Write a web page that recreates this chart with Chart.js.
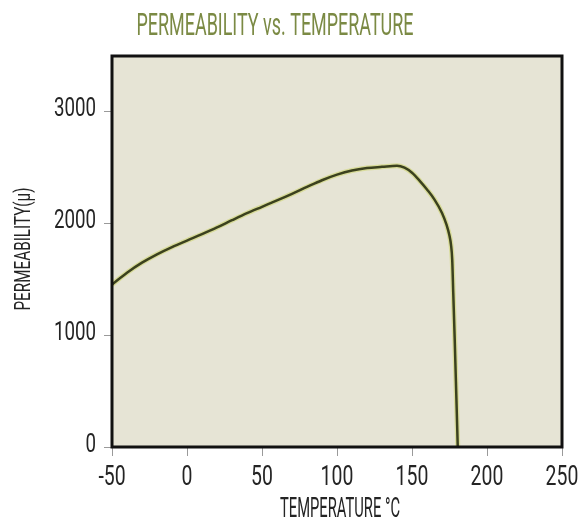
<!DOCTYPE html>
<html>
<head>
<meta charset="utf-8">
<script src="https://cdn.jsdelivr.net/npm/chart.js@4/dist/chart.umd.min.js"></script>
<style>
  html, body { margin: 0; padding: 0; background: #ffffff; }
  #wrap { width: 585px; height: 529px; }
</style>
</head>
<body>
<div id="wrap"><canvas id="chart" width="585" height="529"></canvas></div>
<script>
// permeability curve, read at temperature (°C)
const temps = [-50, -40, -30, -20, -10, 0, 10, 20, 30, 40, 50, 60, 70, 80, 90, 100, 110, 120, 130, 140, 145, 150, 155, 160, 165, 170, 173, 175, 176, 176.8, 177.5, 178.5, 179.5, 180.5]
const perm  = [1455, 1560, 1650, 1725, 1790, 1848, 1905, 1965, 2030, 2093, 2150, 2207, 2266, 2328, 2388, 2438, 2475, 2497, 2508, 2518, 2500, 2455, 2385, 2305, 2215, 2095, 1990, 1890, 1810, 1680, 1380, 950, 480, 0]

const xTicks = [-50, 0, 50, 100, 150, 200, 250]
const yTicks = [0, 1000, 2000, 3000]

const titleText = "PERMEABILITY vs. TEMPERATURE"
const xTitle = "TEMPERATURE °C"
const yTitle = "PERMEABILITY(μ)"

const FONT = 'Roboto, "Liberation Sans", sans-serif'
const INK = '#242424'

const points = () => temps.map((t, i) => ({ x: t, y: perm[i] }))

// draws text squeezed horizontally, for the tall condensed lettering
function narrowText(ctx, text, x, y, size, opts) {
  const o = Object.assign({ align: 'center', squeeze: 0.72, width: null, rotate: 0, color: INK }, opts)
  ctx.save()
  ctx.font = size + 'px ' + FONT
  ctx.fillStyle = o.color
  ctx.textBaseline = 'middle'
  ctx.textAlign = o.align
  ctx.translate(x, y)
  if (o.rotate) ctx.rotate(o.rotate)
  const sx = o.width ? o.width / ctx.measureText(text).width : o.squeeze
  ctx.scale(sx, 1)
  ctx.fillText(text, 0, 0)
  ctx.restore()
}

// beige plot panel, black frame, titles and tick labels
const panel = {
  id: 'panel',
  beforeDatasetsDraw(chart) {
    const { ctx, chartArea: a } = chart
    ctx.save()
    ctx.fillStyle = '#e6e4d5'
    ctx.fillRect(a.left, a.top, a.right - a.left, a.bottom - a.top)
    ctx.restore()
  },
  afterDraw(chart) {
    const { ctx, chartArea: a } = chart
    const xs = chart.scales.x, ys = chart.scales.y
    ctx.save()
    ctx.strokeStyle = '#111111'
    ctx.lineWidth = 3
    ctx.strokeRect(a.left, a.top, a.right - a.left, a.bottom - a.top)
    ctx.restore()

    xTicks.forEach(v => narrowText(ctx, String(v), xs.getPixelForValue(v), 478, 27))
    yTicks.forEach(v => narrowText(ctx, String(v), 96, ys.getPixelForValue(v) - 2, 26, { align: 'right' }))

    narrowText(ctx, titleText, 275, 27, 31, { width: 277, color: '#7b8a44' })
    narrowText(ctx, xTitle, 340, 510, 27, { width: 120 })
    narrowText(ctx, yTitle, 24, 249, 22, { width: 123, rotate: -Math.PI / 2 })
  }
}

new Chart(document.getElementById('chart'), {
  type: 'scatter',
  data: {
    datasets: [{
      data: points(),
      showLine: true,
      borderColor: '#3b411e',
      borderWidth: 2.5,
      pointRadius: 0,
      cubicInterpolationMode: 'monotone',
      order: 1
    }, {
      data: points(),
      showLine: true,
      borderColor: 'rgba(204, 212, 104, 0.55)',
      borderWidth: 5,
      pointRadius: 0,
      cubicInterpolationMode: 'monotone',
      order: 2
    }]
  },
  options: {
    responsive: false,
    animation: false,
    layout: { padding: { top: 56, right: 23, left: 0, bottom: 0 } },
    plugins: {
      legend: { display: false },
      tooltip: { enabled: false }
    },
    scales: {
      x: {
        type: 'linear',
        min: -50,
        max: 250,
        afterBuildTicks: s => { s.ticks = xTicks.map(v => ({ value: v })) },
        grid: { drawOnChartArea: false, color: '#9a9a9a', tickLength: 9 },
        border: { display: false },
        ticks: { display: false },
        afterFit: s => { s.height = 82 }
      },
      y: {
        min: 0,
        max: 3500,
        afterBuildTicks: s => { s.ticks = yTicks.map(v => ({ value: v })) },
        grid: { drawOnChartArea: false, color: '#9a9a9a', tickLength: 8 },
        border: { display: false },
        ticks: { display: false },
        afterFit: s => { s.width = 112 }
      }
    }
  },
  plugins: [panel]
})
</script>
</body>
</html>
